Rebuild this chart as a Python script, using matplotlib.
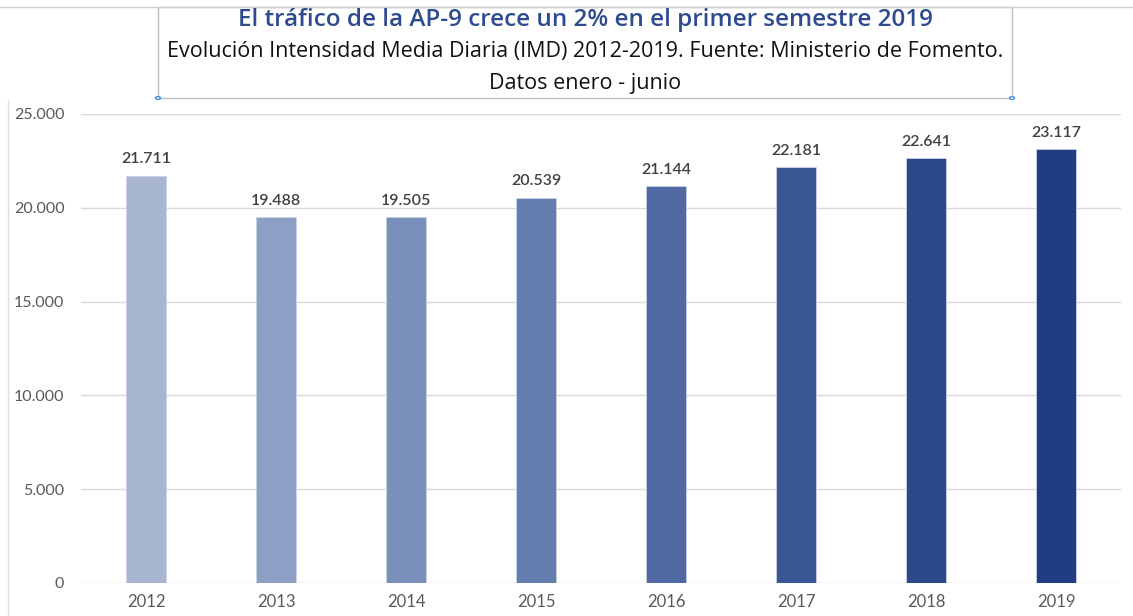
import matplotlib
matplotlib.use("Agg")
import matplotlib.pyplot as plt
import matplotlib.patches as patches
from matplotlib.lines import Line2D

years = ["2012", "2013", "2014", "2015", "2016", "2017", "2018", "2019"]
imd = [21711, 19488, 19505, 20539, 21144, 22181, 22641, 23117]
bar_colors = ["#a8b6d2", "#8e9fc5", "#7a8fbb", "#657eb0", "#5069a3", "#3a5695", "#2a498b", "#1f3d82"]
y_ticks = [0, 5000, 10000, 15000, 20000, 25000]

title = "El tráfico de la AP-9 crece un 2% en el primer semestre 2019"
subtitle = "Evolución Intensidad Media Diaria (IMD) 2012-2019. Fuente: Ministerio de Fomento."
subtitle2 = "Datos enero - junio"


def fmt(v):
    return f"{v:,}".replace(",", ".")


W, H = 1133, 616
fig = plt.figure(figsize=(W / 100, H / 100), dpi=100)
ax = fig.add_axes([81 / W, 1 - 583 / H, (1121 - 81) / W, (583 - 114) / H])

x = range(len(years))
bars = ax.bar(x, imd, width=0.31, color=bar_colors, edgecolor="#c9d3e6", linewidth=0.6, zorder=3)

for xi, v in zip(x, imd):
    ax.text(xi, v + 500, fmt(v), ha="center", va="bottom", fontsize=11.5,
            color="#404040", family="Lato", fontweight="semibold", zorder=4)

ax.set_xlim(-0.5, len(years) - 0.5)
ax.set_ylim(0, 25000)
ax.set_yticks(y_ticks)
ax.set_yticklabels([fmt(t) for t in y_ticks])
ax.set_xticks(list(x))
ax.set_xticklabels(years)
ax.grid(axis="y", color="#d9d9d9", linewidth=1, zorder=0)
for s in ax.spines.values():
    s.set_visible(False)
ax.tick_params(length=0, labelsize=12, colors="#595959", pad=8)
ax.tick_params(axis="y", labelsize=11.5, pad=12)
for lab in ax.get_xticklabels() + ax.get_yticklabels():
    lab.set_family("Lato")

# caja del título
fig.add_artist(Line2D([0, 1], [1 - 7 / H, 1 - 7 / H], color="#d0d0d0", lw=1))
fig.add_artist(Line2D([8 / W, 8 / W], [0, 1 - 100 / H], color="#e0e0e0", lw=1))
box = patches.Rectangle((158 / W, 1 - 98 / H), (1012 - 158) / W, (98 - 7) / H,
                        transform=fig.transFigure, facecolor="white",
                        edgecolor="#bfbfbf", linewidth=1)
fig.add_artist(box)
for cx in (158, 1012):
    fig.add_artist(patches.Circle((cx / W, 1 - 98 / H), 2.5 / W, transform=fig.transFigure,
                                  facecolor="white", edgecolor="#4a90d9", lw=1))

fig.text(585 / W, 1 - 20 / H, title, ha="center", va="center", fontsize=17.5,
         color="#2f4b8f", family="Open Sans", fontweight="semibold")
fig.text(585 / W, 1 - 51 / H, subtitle, ha="center", va="center", fontsize=15.5,
         color="#111111", family="Open Sans")
fig.text(585 / W, 1 - 83 / H, subtitle2, ha="center", va="center", fontsize=15.5,
         color="#111111", family="Open Sans")

fig.savefig("out.png", dpi=100)
